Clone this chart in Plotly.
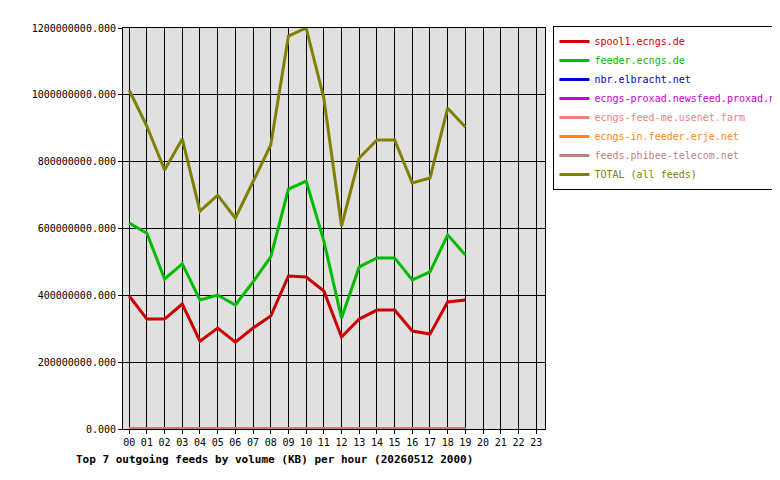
import plotly.graph_objects as go

hours = ["%02d" % h for h in range(24)]
data_hours = hours[:20]

spool1 = [398, 329, 329, 374, 263, 302, 260, 302, 338, 458, 455, 413, 275, 329, 356, 356, 293, 284, 380, 386]
feeder = [616, 586, 449, 494, 386, 401, 371, 440, 515, 718, 742, 563, 332, 485, 512, 512, 446, 470, 581, 521]
total = [1014, 906, 775, 868, 652, 700, 631, 742, 850, 1176, 1200, 990, 607, 811, 865, 865, 736, 751, 960, 904]
zeros = [0] * 20

series = [
    ("spool1.ecngs.de", [v * 1e6 for v in spool1], "#cc0000"),
    ("feeder.ecngs.de", [v * 1e6 for v in feeder], "#00bb00"),
    ("nbr.elbracht.net", zeros, "#0000cc"),
    ("ecngs-proxad.newsfeed.proxad.net", zeros, "#cc00cc"),
    ("ecngs-feed-me.usenet.farm", zeros, "#f08080"),
    ("ecngs-in.feeder.erje.net", zeros, "#ff8800"),
    ("feeds.phibee-telecom.net", zeros, "#c08080"),
    ("TOTAL (all feeds)", [v * 1e6 for v in total], "#808000"),
]

fig = go.Figure()
for name, ys, col in series:
    fig.add_trace(go.Scatter(x=data_hours, y=ys, mode="lines",
                             name='<span style="color:%s">%s</span>' % (col, name),
                             line=dict(color=col, width=3)))

yt = [i * 200e6 for i in range(7)]
fig.update_layout(
    width=780, height=480,
    margin=dict(l=115, r=243, t=20, b=59, autoexpand=False),
    paper_bgcolor="white", plot_bgcolor="#e0e0e0",
    font=dict(family="DejaVu Sans Mono", size=10, color="black"),
    showlegend=True,
    legend=dict(x=1.02, y=1.005, xanchor="left", yanchor="top",
                bordercolor="black", borderwidth=1, bgcolor="white",
                font=dict(size=10), tracegroupgap=0, itemwidth=30),
    xaxis=dict(type="category", categoryorder="array", categoryarray=hours,
               range=[-0.35, 23.5], showgrid=True, gridcolor="black", gridwidth=1,
               showline=True, linecolor="black", mirror=True, ticks="outside",
               ticklen=4, tickcolor="black", automargin=False),
    yaxis=dict(range=[0, 1.2e9], tickvals=yt, ticktext=["%.3f" % v for v in yt],
               showgrid=True, gridcolor="black", gridwidth=1, zeroline=False,
               showline=True, linecolor="black", mirror=True, ticks="outside",
               ticklen=4, tickcolor="black", automargin=False),
    annotations=[dict(text="<b>Top 7 outgoing feeds by volume (KB) per hour (20260512 2000)</b>",
                      xref="paper", yref="paper", x=-0.115, y=-0.055,
                      xanchor="left", yanchor="top", showarrow=False,
                      font=dict(size=11))],
)

fig.write_html("out.html")
